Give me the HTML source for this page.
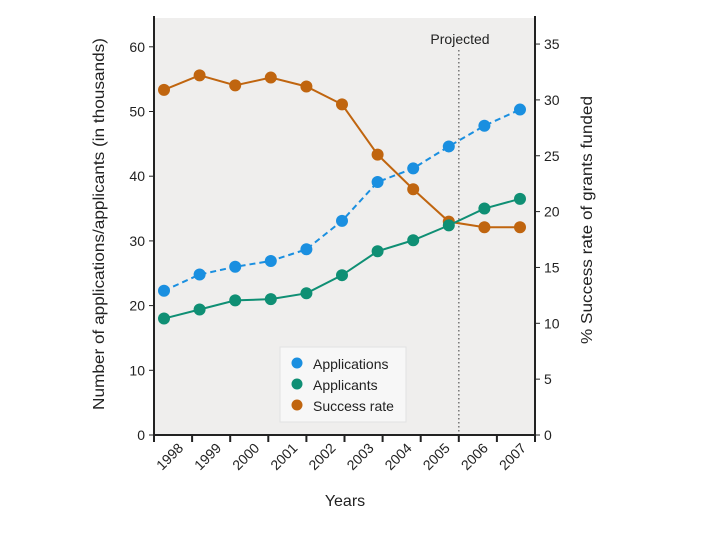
<!DOCTYPE html>
<html><head><meta charset="utf-8">
<style>
html,body{margin:0;padding:0;background:#fff;}
svg{display:block;font-family:"Liberation Sans",sans-serif;}
</style></head>
<body>
<svg id="chart" width="720" height="540" viewBox="0 0 720 540" xmlns="http://www.w3.org/2000/svg">
<rect x="154" y="18" width="381" height="417" fill="#efeeed"/>
<g id="marks"></g>
<g id="axes"></g>
<rect x="280" y="347" width="126" height="75" fill="#f7f7f7" stroke="#e2e2e2"/>
<g><circle cx="297" cy="363" r="5.5" fill="#1a8fe0"/><text x="313" y="369" font-size="14" fill="#222">Applications</text></g>
<g><circle cx="297" cy="384" r="5.5" fill="#0f8f74"/><text x="313" y="390" font-size="14" fill="#222">Applicants</text></g>
<g><circle cx="297" cy="405" r="5.5" fill="#c0650f"/><text x="313" y="411" font-size="14" fill="#222">Success rate</text></g>
<text x="345" y="506" font-size="16" text-anchor="middle" fill="#222">Years</text>
<text transform="translate(104,224) rotate(-90)" font-size="16" text-anchor="middle" textLength="372" lengthAdjust="spacingAndGlyphs" fill="#222">Number of applications/applicants (in thousands)</text>
<text transform="translate(592,220) rotate(-90)" font-size="16" text-anchor="middle" textLength="248" lengthAdjust="spacingAndGlyphs" fill="#222">% Success rate of grants funded</text>
<text x="460" y="44" font-size="14" text-anchor="middle" fill="#222">Projected</text>
</svg>
<script>
const years = ["1998","1999","2000","2001","2002","2003","2004","2005","2006","2007"];
const leftTicks = [0,10,20,30,40,50,60];
const rightTicks = [0,5,10,15,20,25,30,35];
const applications = [22.3,24.8,26.0,26.9,28.7,33.1,39.1,41.2,44.6,47.8,50.3];
const applicants = [18.0,19.4,20.8,21.0,21.9,24.7,28.4,30.1,32.4,35.0,36.5];
const successRate = [30.9,32.2,31.3,32.0,31.2,29.6,25.1,22.0,19.1,18.6,18.6];
const projectedIndex = 8;

const NS="http://www.w3.org/2000/svg";
const X0=154,X1=535,Y0=435;
const yL=v=>Y0-v*6.47;
const yR=v=>Y0-v*11.17;
const xP=i=>164+i*35.6;
const xTick=i=>X0+i*(X1-X0)/years.length;
const marks=document.getElementById('marks'), axes=document.getElementById('axes');
function mk(tag,attrs,parent){const e=document.createElementNS(NS,tag);for(const k in attrs)e.setAttribute(k,attrs[k]);parent.appendChild(e);return e;}

// projected line
const pl=mk('line',{x1:xTick(projectedIndex+0.5)-0.5*(X1-X0)/years.length+ (X1-X0)/years.length*0.5,x2:0,y1:50,y2:Y0,stroke:'#777','stroke-width':1.5,'stroke-dasharray':'1.5,2.5'},marks);
pl.setAttribute('x1',xTick(projectedIndex)); pl.setAttribute('x2',xTick(projectedIndex));



function series(vals,yf,color,dash,name){
  const pts=vals.map((v,i)=>xP(i)+','+yf(v)).join(' ');
  const l=mk('polyline',{points:pts,fill:'none',stroke:color,'stroke-width':2,'stroke-dasharray':dash||'none'},marks);
  
  
  vals.forEach((v,i)=>{
    const c=mk('circle',{cx:xP(i),cy:yf(v),r:6,fill:color},marks);
    
    
  });
}
series(successRate,yR,'#c0650f',null,'success-rate');
series(applicants,yL,'#0f8f74',null,'applicants');
series(applications,yL,'#1a8fe0','6,4','applications');

// axes lines
mk('line',{x1:X0,x2:X0,y1:16,y2:440,stroke:'#222','stroke-width':2},axes);
mk('line',{x1:X1,x2:X1,y1:16,y2:440,stroke:'#222','stroke-width':2},axes);
mk('line',{x1:X0-1,x2:X1+1,y1:Y0,y2:Y0,stroke:'#222','stroke-width':2},axes);
leftTicks.forEach(t=>{
  mk('line',{x1:X0-5,x2:X0,y1:yL(t),y2:yL(t),stroke:'#222'},axes);
  const tx=mk('text',{x:X0-9,y:yL(t)+5,'font-size':14,'text-anchor':'end',fill:'#222'},axes);
  tx.textContent=t;
  
  
});
rightTicks.forEach(t=>{
  mk('line',{x1:X1,x2:X1+5,y1:yR(t),y2:yR(t),stroke:'#222'},axes);
  const tx=mk('text',{x:X1+9,y:yR(t)+5,'font-size':14,fill:'#222'},axes);
  tx.textContent=t;
  
  
});
for(let i=0;i<=years.length;i++){
  mk('line',{x1:xTick(i),x2:xTick(i),y1:Y0,y2:Y0+7,stroke:'#222','stroke-width':2},axes);
}
years.forEach((y,i)=>{
  const x=xTick(i+1)-8, yy=Y0+14;
  const tx=mk('text',{x:x,y:yy,'font-size':14,'text-anchor':'end',fill:'#222',transform:`rotate(-45 ${x} ${yy})`},axes);
  tx.textContent=y;
  
  
});
</script>
</body></html>
